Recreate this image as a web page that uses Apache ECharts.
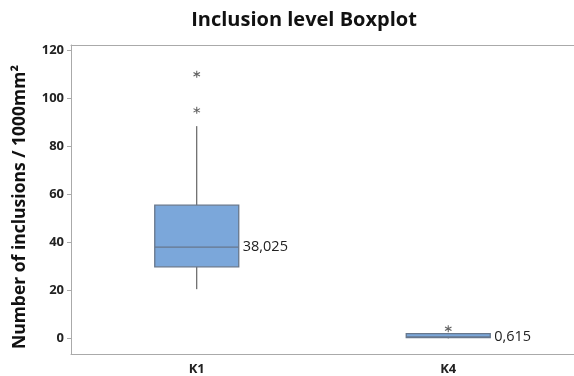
<!DOCTYPE html>
<html><head><meta charset="utf-8">
<script src="https://cdn.jsdelivr.net/npm/echarts@6/dist/echarts.min.js"></script>
<style>html,body{margin:0;padding:0;background:#fff}#c{width:574px;height:376px}</style>
</head><body><div id="c"></div>
<script>
const categories = ['K1', 'K4'];
// [min whisker, Q1, median, Q3, max whisker]
const boxK1 = [20.5, 29.8, 38.025, 55.5, 88.4];
const boxK4 = [0, 0.3, 0.615, 2.0, 2.0];
const outliersK1 = [95, 110];
const outliersK4 = [4];
const medianLabels = ['38,025', '0,615'];
const yTicks = [0, 20, 40, 60, 80, 100, 120];
const yTitle = 'Number of inclusions / 1000mm²';

const font = '"Open Sans", "Noto Sans", sans-serif';
const star = 'path://M-1.4,-10L1.4,-10L1.4,10L-1.4,10Z M-9.36,-3.79L-7.96,-6.21L9.36,3.79L7.96,6.21Z M-7.96,6.21L-9.36,3.79L7.96,-6.21L9.36,-3.79Z';

const boxes = [boxK1, boxK4];
const outlierData = [];
outliersK1.forEach(v => outlierData.push([0, v]));
outliersK4.forEach(v => outlierData.push([1, v]));

const BOX_W = 84;
function renderBox(params, api) {
  const i = api.value(0);
  const c = [1, 2, 3, 4, 5].map(k => api.coord([i, api.value(k)]));
  const x = c[0][0];
  const half = BOX_W / 2;
  const whisker = { stroke: '#444', lineWidth: 1 };
  return {
    type: 'group',
    children: [
      { type: 'line', shape: { x1: x, y1: c[0][1], x2: x, y2: c[1][1] }, style: whisker },
      { type: 'line', shape: { x1: x, y1: c[3][1], x2: x, y2: c[4][1] }, style: whisker },
      { type: 'rect', shape: { x: x - half, y: c[3][1], width: BOX_W, height: Math.max(c[1][1] - c[3][1], 1) },
        style: { fill: '#7ba7da', stroke: '#67778c', lineWidth: 1.3 } },
      { type: 'line', shape: { x1: x - half, y1: c[2][1], x2: x + half, y2: c[2][1] },
        style: { stroke: '#67778c', lineWidth: 1.3 } },
      { type: 'text', x: x + half + 4, y: c[2][1],
        style: { text: medianLabels[i], fill: '#222', font: '14.5px ' + font, textVerticalAlign: 'middle', textAlign: 'left' } }
    ]
  };
}

const chart = echarts.init(document.getElementById('c'));
chart.setOption({
  animation: false,
  textStyle: { fontFamily: font },
  title: {
    text: 'Inclusion level Boxplot',
    left: 299, top: 5, textAlign: 'center',
    textStyle: { fontFamily: font, fontSize: 20, fontWeight: 'bold', color: '#111' }
  },
  graphic: [{
    type: 'text', x: 20, y: 207, rotation: Math.PI / 2,
    style: { text: yTitle, font: 'bold 17.5px ' + font, fill: '#111', textAlign: 'center', textVerticalAlign: 'middle' }
  }],
  grid: { left: 71, right: -5, top: 45, bottom: 22 },
  xAxis: [{
    type: 'category', data: categories, position: 'bottom',
    axisLine: { onZero: false, lineStyle: { color: '#aaa', width: 1 } },
    axisTick: { alignWithLabel: true, length: 4, lineStyle: { color: '#aaa' } },
    axisLabel: { fontFamily: font, fontSize: 13, fontWeight: 'bold', color: '#222', margin: 9 },
    splitLine: { show: false }
  }, {
    type: 'category', data: categories, position: 'top',
    axisLine: { show: true, onZero: false, lineStyle: { color: '#aaa', width: 1 } },
    axisTick: { show: false }, axisLabel: { show: false }
  }],
  yAxis: {
    type: 'value', min: -6.5, max: 122.2,
    axisLine: { show: true, lineStyle: { color: '#aaa', width: 1 } },
    axisTick: { show: true, length: 4, lineStyle: { color: '#aaa' }, customValues: yTicks },
    axisLabel: { fontFamily: font, fontSize: 13, fontWeight: 'bold', color: '#222', margin: 7, customValues: yTicks },
    splitLine: { show: false }
  },
  series: [{
    type: 'custom',
    renderItem: renderBox,
    data: boxes.map((b, i) => [i].concat(b)),
    encode: { x: 0, y: [1, 2, 3, 4, 5] },
    silent: true
  }, {
    type: 'scatter',
    data: outlierData,
    symbol: star, symbolSize: [7, 7],
    itemStyle: { color: '#3a3a3a' },
    silent: true
  }]
});
</script></body></html>
